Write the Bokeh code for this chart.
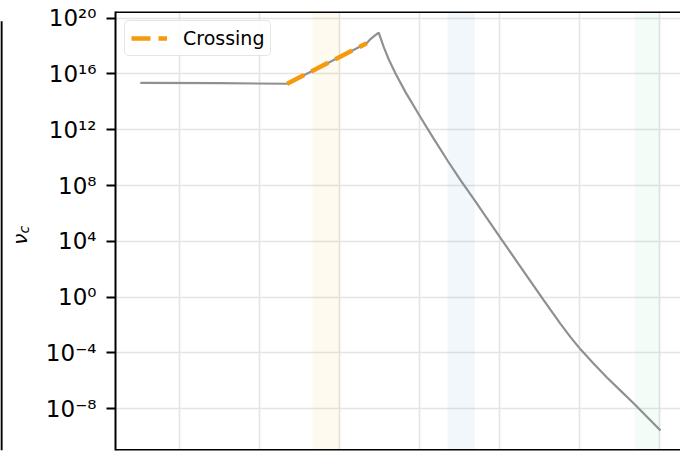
import math
from bokeh.plotting import figure
from bokeh.layouts import row
from bokeh.models import (Range1d, FixedTicker, Grid, BoxAnnotation, Span,
                          CustomJSTickFormatter)
from bokeh.core.properties import value
from bokeh.embed import file_html
from bokeh.resources import INLINE

# ---- data ----
curve_x = [-0.49, 0.5, 1.346, 2.34, 2.3875, 2.444, 2.49, 2.55, 2.6125, 2.70, 2.825,
           3.0125, 3.175, 3.35, 3.5125, 3.679, 4.0375, 4.2625, 4.554, 4.7625,
           4.8875, 5.0125, 5.175, 5.346, 5.5125, 5.679, 5.846, 6.0125]
curve_y = [2.29e15, 2.19e15, 2.0e15, 1.62e18, 3.2e18, 5.9e18, 9.4e18, 9.5e17, 1.21e17,
           1.07e16, 5.0e14, 7.9e12, 2.4e11, 6.3e9, 2.5e8, 1.05e7, 1.1e4, 151.0, 0.59,
           1.23e-2, 1.38e-3, 1.82e-4, 1.74e-5, 1.70e-6, 2.0e-7, 2.4e-8, 2.6e-9, 2.75e-10]
crossing_x = [1.346, 2.34]
crossing_y = [2.0e15, 1.62e18]
band_left = [1.66, 3.35, 5.69]
band_right = [2.01, 3.69, 6.01]
band_colors = ["#ffa500", "#1f77b4", "#2ecc71"]
x_grid_ticks = [0, 1, 2, 3, 4, 5, 6]
y_ticks = [1e-8, 1e-4, 1e0, 1e4, 1e8, 1e12, 1e16, 1e20]
y_label_main = "ν"
y_label_sub = "c"

FONT = "DejaVu Sans"
Y_LO, Y_HI = 10**-10.99, 10**20.48

# ---- narrow left strip holding the y-axis label ----
p0 = figure(width=40, height=451, x_range=Range1d(0, 40), y_range=Range1d(0, 451),
            x_axis_location=None, y_axis_location=None,
            min_border_left=0, min_border_right=0, min_border_top=0, min_border_bottom=0,
            output_backend="svg", toolbar_location=None)
p0.outline_line_color = None
p0.grid.visible = False
p0.line([1, 1], [0, 441], line_color="black", line_width=2.2)
p0.text(x=[19.5], y=[217], text=[y_label_main], angle=math.pi / 2,
        text_align="center", text_baseline="alphabetic",
        text_font=value(FONT), text_font_style="italic",
        text_font_size="20px", text_color="black")
p0.text(x=[23.5], y=[227], text=[y_label_sub], angle=math.pi / 2,
        text_align="center", text_baseline="alphabetic",
        text_font=value(FONT), text_font_style="italic",
        text_font_size="14px", text_color="black")

# ---- main chart ----
p = figure(width=640, height=451, y_axis_type="log", x_axis_location=None,
           x_range=Range1d(-0.8, 6.2625), y_range=Range1d(Y_LO, Y_HI),
           min_border_left=75, min_border_top=11, min_border_bottom=1, min_border_right=0,
           output_backend="svg", toolbar_location=None)
p.outline_line_color = None
p.background_fill_color = "white"
p.border_fill_color = "white"

p.center = [r for r in p.center if not (isinstance(r, Grid) and r.dimension == 0)]
xg = Grid(dimension=0, ticker=FixedTicker(ticks=x_grid_ticks),
          grid_line_color="#e4e4e4", grid_line_width=1.6)
p.add_layout(xg, "center")

yt = FixedTicker(ticks=y_ticks)
p.ygrid.ticker = yt
p.ygrid.grid_line_color = "#e4e4e4"
p.ygrid.grid_line_width = 1.6

ax = p.yaxis[0]
ax.ticker = yt
ax.formatter = CustomJSTickFormatter(code="""
const sup = {"0":"\u2070","1":"\u00b9","2":"\u00b2","3":"\u00b3","4":"\u2074",
             "5":"\u2075","6":"\u2076","7":"\u2077","8":"\u2078","9":"\u2079","-":"\u207b"};
const e = Math.round(Math.log10(tick));
return "10" + String(e).split("").map(c => sup[c]).join("");
""")
ax.minor_tick_line_color = None
ax.major_tick_out = 9
ax.major_tick_in = 0
ax.major_tick_line_width = 2
ax.major_tick_line_color = "black"
ax.axis_line_width = 2
ax.axis_line_color = "black"
ax.major_label_standoff = 10
ax.major_label_text_font = FONT
ax.major_label_text_font_size = "23px"
ax.major_label_text_color = "black"

for l, r, c in zip(band_left, band_right, band_colors):
    p.add_layout(BoxAnnotation(left=l, right=r, fill_color=c, fill_alpha=0.06,
                               line_color=None, level="underlay"))

# top and bottom spines (slightly inset so they are not clipped)
p.add_layout(Span(location=10**20.44, dimension="width", line_color="black", line_width=2))
p.add_layout(Span(location=10**-10.95, dimension="width", line_color="black", line_width=2))

p.line(curve_x, curve_y, line_color="#909090", line_width=2.2)
p.line(crossing_x, crossing_y, line_color="#f59a0c", line_width=4.5,
       line_dash="19 8", legend_label="Crossing")

lg = p.legend[0]
lg.location = "top_left"
lg.margin = 9
lg.padding = 6
lg.glyph_width = 36
lg.glyph_height = 14
lg.label_height = 14
lg.label_standoff = 16
lg.label_text_font = FONT
lg.label_text_font_size = "19px"
lg.label_text_color = "black"
lg.border_line_color = "#cccccc"
lg.border_line_width = 1.5
lg.background_fill_alpha = 0.85
if "border_radius" in lg.properties():
    lg.border_radius = 5

layout = row(p0, p, spacing=0)

with open("out.html", "w", encoding="utf-8") as f:
    f.write(file_html(layout, INLINE))
